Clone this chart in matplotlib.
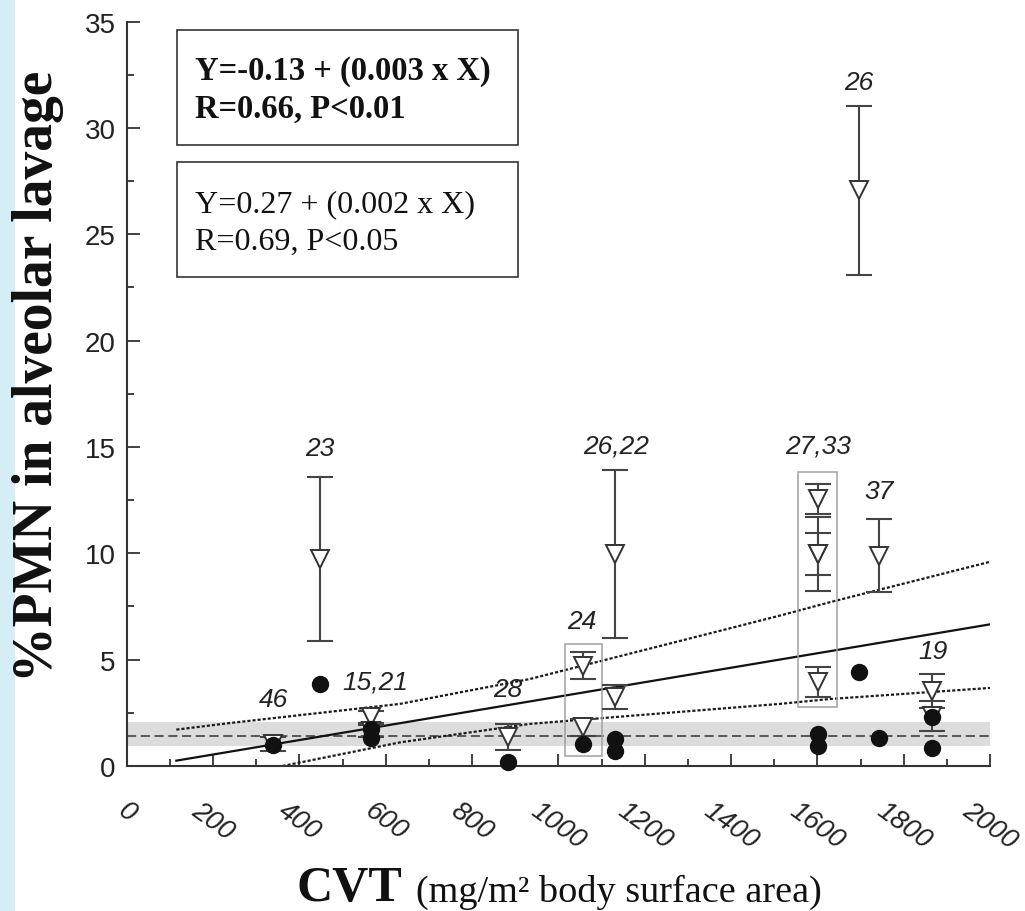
import numpy as np
import matplotlib
matplotlib.use("Agg")
import matplotlib.pyplot as plt
from matplotlib.patches import Rectangle
from matplotlib.ticker import MultipleLocator

# open triangles with error bars (x = CVT, y = %PMN, err = +/-)
tri_x = [339, 567, 567, 448, 883, 1057, 1057, 1131, 1131, 1601, 1601, 1601, 1601, 1743, 1865, 1865, 1696]
tri_y = [1.05, 2.30, 1.65, 9.74, 1.37, 4.72, 1.83, 9.97, 3.25, 12.56, 9.97, 9.98, 3.95, 9.89, 3.54, 2.35, 27.06]
tri_err = [0.33, 0.27, 0.30, 3.85, 0.60, 0.64, 0.40, 3.94, 0.57, 0.72, 1.00, 1.73, 0.72, 1.72, 0.80, 0.70, 3.98]

# filled circles
circ_x = [339, 448, 567, 567, 883, 1057, 1131, 1131, 1601, 1601, 1696, 1743, 1865, 1865]
circ_y = [0.98, 3.86, 1.75, 1.30, 0.19, 1.03, 1.27, 0.72, 1.50, 0.95, 4.44, 1.32, 2.30, 0.85]

# group labels (italic numbers above the points)
group_labels = ["46", "15,21", "23", "28", "24", "26,22", "27,33", "37", "19", "26"]
label_x = [339, 575, 448, 883, 1054, 1133, 1601, 1743, 1867, 1696]
label_y = [3.15, 3.97, 14.96, 3.62, 6.84, 15.07, 15.07, 12.95, 5.42, 32.16]

# regression line and confidence band
fit_intercept = -0.14
fit_slope = 0.0034
fit_range = [115, 2000]
upper_x = [115, 239, 633, 934, 1513, 1629, 2000]
upper_y = [1.71, 2.02, 2.92, 4.09, 7.07, 7.70, 9.60]
lower_x = [361, 633, 934, 1513, 1629, 2000]
lower_y = [0.00, 1.11, 1.98, 2.92, 3.15, 3.67]

# control reference: mean line and shaded range
ref_mean = 1.43
ref_lo = 0.93
ref_hi = 2.08

eq_bold = ["Y=-0.13 + (0.003 x X)", "R=0.66, P<0.01"]
eq_reg = ["Y=0.27 + (0.002 x X)", "R=0.69, P<0.05"]

SANS = "Liberation Sans"
SERIF = "Liberation Serif"
AX_COL = "#333333"

fig = plt.figure(figsize=(10.25, 9.12), dpi=100)
W, H = 1025.0, 912.0

# light blue strip on the left edge
fig.patches.append(Rectangle((0, 0), 15 / W, 1, transform=fig.transFigure,
                             facecolor="#d5eef5", edgecolor="none", zorder=0))

ax = fig.add_axes([126.7 / W, 1 - 767 / H, 863.3 / W, 744.4 / H])
ax.set_xlim(0, 2000)
ax.set_ylim(0, 35)
for s in ["top", "right"]:
    ax.spines[s].set_visible(False)
for s in ["left", "bottom"]:
    ax.spines[s].set_color(AX_COL)
    ax.spines[s].set_linewidth(1.5)

ax.xaxis.set_major_locator(MultipleLocator(200))
ax.xaxis.set_minor_locator(MultipleLocator(100))
ax.yaxis.set_major_locator(MultipleLocator(5))
ax.yaxis.set_minor_locator(MultipleLocator(2.5))
ax.tick_params(which="both", direction="in", color=AX_COL, width=1.3)
ax.tick_params(which="major", length=9)
ax.tick_params(which="minor", length=5)
ax.tick_params(axis="x", which="major", pad=22)
ax.tick_params(axis="y", which="major", pad=8)

for t in ax.get_yticklabels():
    t.set_fontfamily(SANS)
    t.set_fontsize(20)
    t.set_color("#222222")
for t in ax.get_xticklabels():
    t.set_fontfamily(SANS)
    t.set_fontsize(19.5)
    t.set_fontstyle("italic")
    t.set_rotation(-36)
    t.set_ha("center")
    t.set_va("top")
    t.set_color("#222222")

# shaded reference range with dashed mean
ax.axhspan(ref_lo, ref_hi, color="#dcdcdc", lw=0, zorder=1)
ax.axhline(ref_mean, color=AX_COL, lw=1.1, ls=(0, (6, 3)), zorder=2)

# regression line and confidence band
fx = np.array(fit_range)
ax.plot(fx, fit_intercept + fit_slope * fx, color="#111111", lw=1.6, zorder=2)
ax.plot(upper_x, upper_y, color="#1a1a1a", lw=1.6, ls=(0, (1.4, 0.9)), zorder=2)
ax.plot(lower_x, lower_y, color="#1a1a1a", lw=1.6, ls=(0, (1.4, 0.9)), zorder=2)

# grey boxes around grouped points
ax.add_patch(Rectangle((1015, 0.47), 86, 5.27, fill=False, ec="#a0a0a0", lw=1.1, zorder=2))
ax.add_patch(Rectangle((1555, 2.78), 90, 11.05, fill=False, ec="#a0a0a0", lw=1.1, zorder=2))

# error bars then triangle markers on top
ax.errorbar(tri_x, tri_y, yerr=tri_err, fmt="none", ecolor="#444444",
            elinewidth=1.5, capsize=9.5, capthick=1.5, zorder=3, clip_on=False)
ax.plot(tri_x, tri_y, "v", ms=13.5, mfc="white", mec="#333333", mew=1.4,
        ls="none", zorder=4, clip_on=False)
ax.plot(circ_x, circ_y, "o", ms=12.5, color="#111111", mec="none",
        ls="none", zorder=5, clip_on=False)

for lab, lx, ly in zip(group_labels, label_x, label_y):
    ax.text(lx, ly, lab, ha="center", va="center", fontsize=19,
            fontstyle="italic", family=SANS, color="#222222", zorder=6)

# equation boxes
ax.add_patch(Rectangle((0.0579, 0.834), 0.395, 0.155, transform=ax.transAxes,
                       fill=False, ec=AX_COL, lw=1.2, zorder=6))
ax.add_patch(Rectangle((0.0579, 0.657), 0.395, 0.155, transform=ax.transAxes,
                       fill=False, ec=AX_COL, lw=1.2, zorder=6))
for ln, yy in zip(eq_bold, [0.9229, 0.8728]):
    ax.text(0.0791, yy, ln, transform=ax.transAxes, va="baseline", ha="left",
            fontsize=23.5, fontweight="bold", family=SERIF, color="#111111")
for ln, yy in zip(eq_reg, [0.7456, 0.6945]):
    ax.text(0.0791, yy, ln, transform=ax.transAxes, va="baseline", ha="left",
            fontsize=23, family=SERIF, color="#111111")

# axis titles
fig.text(52.5 / W, 1 - 376.5 / H, "%PMN in alveolar lavage", rotation=90,
         rotation_mode="anchor", ha="center", va="baseline", fontsize=40,
         fontweight="bold", family=SERIF, color="#111111")
fig.text(402 / W, 10.5 / H, "CVT", ha="right", va="baseline", fontsize=36,
         fontweight="bold", family=SERIF, color="#111111")
fig.text(416 / W, 10.5 / H, "(mg/m\u00b2 body surface area)", ha="left",
         va="baseline", fontsize=27.5, family=SERIF, color="#111111")

fig.savefig("out.png", dpi=100)
